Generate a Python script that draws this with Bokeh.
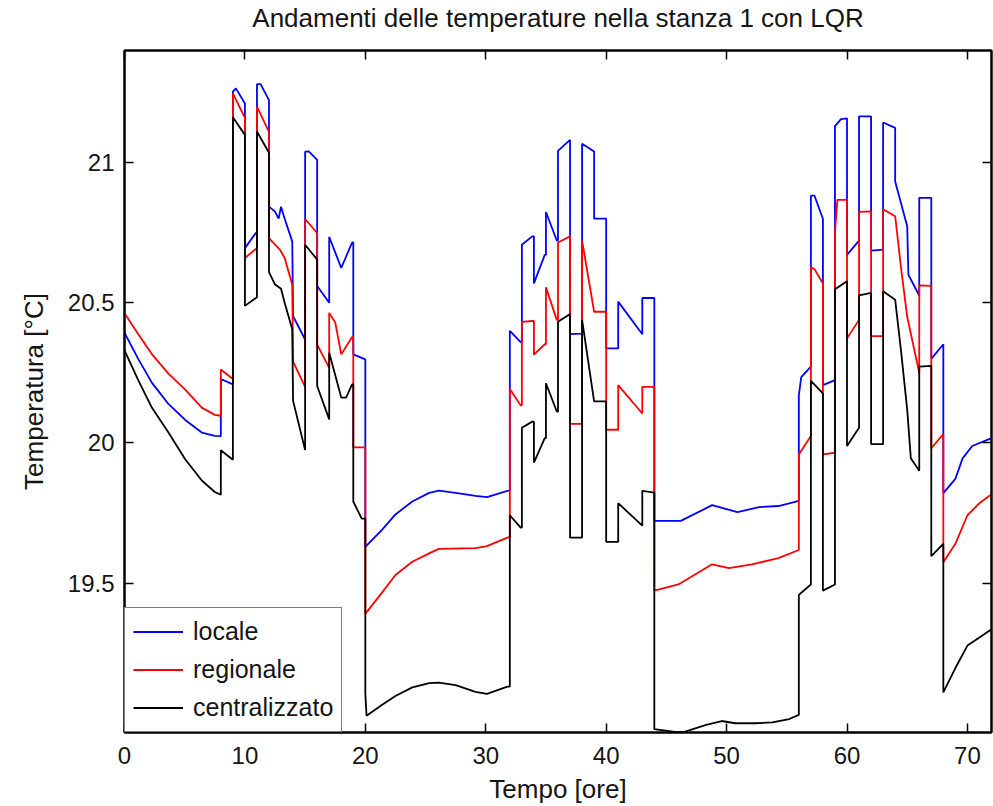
from bokeh.plotting import figure
from bokeh.models import (Range1d, LinearAxis, FixedTicker, NumeralTickFormatter,
                          Legend, LegendItem, CustomJSTickFormatter)
from bokeh.embed import file_html
from bokeh.resources import INLINE

title_text = "Andamenti delle temperature nella stanza 1 con LQR"
x_label = "Tempo [ore]"
y_label = "Temperatura [°C]"
x_ticks = [0, 10, 20, 30, 40, 50, 60, 70]
y_ticks = [19.5, 20, 20.5, 21]
series_names = ["locale", "regionale", "centralizzato"]

t_locale = [0, 1.16, 2.27, 3.65, 5.04, 6.42, 7.5, 8, 8, 9, 9, 9.25, 10, 10, 10.9, 11, 11, 11.3, 12,
            12, 12.5, 12.8, 13, 13.3, 13.93, 14, 15, 15, 15.3, 16, 16, 17, 17, 18, 18.9, 19, 19, 20,
            20, 21.4, 22.5, 23.9, 25.3, 26.1, 27.5, 29.15, 30.1, 31.8, 32, 32, 32.9, 33, 33, 33.86,
            34, 34, 34.9, 35, 35, 35.9, 36, 36, 37, 37, 38, 38, 39, 39, 40, 40, 41, 41, 43, 43, 44,
            44, 46.2, 48.8, 50.9, 52.7, 54.3, 56, 56, 56.2, 57, 57, 57.3, 58, 58, 59, 59, 59.5, 60,
            60, 61, 61, 62, 62, 63, 63, 64, 64, 65, 65.1, 66, 66, 67, 67, 68, 68, 69, 69.6, 70.4, 72]
T_locale = [20.393, 20.298, 20.215, 20.139, 20.082, 20.037, 20.025, 20.024, 20.228, 20.209, 21.253,
            21.265, 21.211, 20.695, 20.749, 20.749, 21.28, 21.28, 21.223, 20.843, 20.825, 20.80,
            20.843, 20.80, 20.719, 20.452, 20.369, 21.039, 21.04, 21.01, 20.56, 20.50, 20.735, 20.624,
            20.715, 20.716, 20.316, 20.298, 19.629, 19.691, 19.745, 19.791, 19.822, 19.83, 19.822,
            19.811, 19.807, 19.829, 19.83, 20.40, 20.36, 20.36, 20.707, 20.737, 20.737, 20.569,
            20.671, 20.671, 20.824, 20.722, 20.722, 21.042, 21.081, 20.388, 20.39, 21.067, 21.04,
            20.80, 20.80, 20.337, 20.337, 20.504, 20.388, 20.517, 20.517, 19.722, 19.722, 19.778,
            19.753, 19.771, 19.775, 19.793, 20.17, 20.235, 20.272, 20.882, 20.882, 20.80, 20.206,
            20.224, 21.13, 21.155, 21.158, 20.671, 20.722, 21.165, 21.165, 20.686, 20.69, 21.143,
            21.124, 20.933, 20.773, 20.60, 20.526, 20.874, 20.874, 20.30, 20.352, 19.821, 19.872,
            19.945, 19.989, 20.017]

t_regionale = [0, 1.16, 2.27, 3.65, 5.04, 6.42, 7.5, 8, 8, 9, 9, 10, 10, 11, 11, 12, 12, 12.9, 13.3,
               13.93, 14, 15, 15, 16, 16, 17, 17, 17.5, 18, 18.9, 19, 19, 20, 20, 21.4, 22.5, 23.9,
               25.3, 26.1, 29.15, 30.1, 31.8, 32, 32, 32.9, 33, 33, 33.86, 34, 34, 34.9, 35, 35,
               35.9, 36, 36, 37, 37, 38, 38, 39, 40, 40, 41, 41, 43, 43, 44, 44, 46, 48.8, 50.2,
               52.1, 54.3, 56, 56, 57, 57, 57.3, 58, 58, 59, 59, 59.2, 60, 60, 61, 61, 62, 62, 63,
               63, 64, 64.5, 65, 66, 66, 67, 67, 68, 68, 69, 70, 71, 72]
T_regionale = [20.463, 20.387, 20.317, 20.247, 20.19, 20.126, 20.10, 20.097, 20.262, 20.228, 21.247,
               21.16, 20.66, 20.695, 21.20, 21.11, 20.731, 20.69, 20.66, 20.565, 20.29, 20.20,
               20.799, 20.749, 20.351, 20.268, 20.464, 20.43, 20.316, 20.378, 20.378, 19.984,
               19.984, 19.39, 19.467, 19.529, 19.576, 19.606, 19.622, 19.625, 19.632, 19.662,
               19.665, 20.192, 20.134, 20.134, 20.432, 20.435, 20.435, 20.315, 20.352, 20.352,
               20.555, 20.439, 20.439, 20.715, 20.737, 20.068, 20.068, 20.722, 20.468, 20.468,
               20.047, 20.047, 20.206, 20.105, 20.20, 20.20, 19.473, 19.495, 19.567, 19.553,
               19.567, 19.589, 19.618, 19.959, 20.025, 20.628, 20.62, 20.569, 19.959, 19.965,
               20.751, 20.867, 20.867, 20.373, 20.439, 20.824, 20.826, 20.381, 20.381, 20.834,
               20.809, 20.62, 20.45, 20.25, 20.562, 20.56, 19.981, 20.032, 19.574, 19.64, 19.742,
               19.785, 19.817]

t_centralizzato = [0, 1.16, 2.27, 3.65, 5.04, 6.42, 7.5, 8, 8, 9, 9, 10, 10, 11, 11, 12, 12, 12.5,
                   13, 13.3, 13.93, 14, 15, 15, 16, 16, 17, 17, 18, 18.4, 18.9, 19, 19, 19.7, 20,
                   20, 20.1, 21.4, 22.5, 23.9, 25.3, 26.1, 27.5, 29.15, 30.1, 31.8, 32, 32, 32.9,
                   33, 33, 33.86, 34, 34, 34.9, 35, 35, 35.9, 36, 36, 37, 37, 38, 38, 39, 40, 40,
                   41, 41, 43, 43, 44, 44, 45.7, 46.5, 48.3, 49.6, 50.7, 52.4, 53.8, 55.2, 56, 56,
                   57, 57, 58, 58, 59, 59, 60, 60, 61, 61, 62, 62, 63, 63, 64, 64.5, 65, 65.3, 66,
                   66, 67, 67, 68, 68, 69, 70, 71, 72]
T_centralizzato = [20.33, 20.222, 20.126, 20.037, 19.942, 19.866, 19.825, 19.815, 19.974, 19.94,
                   21.162, 21.099, 20.489, 20.52, 21.111, 21.035, 20.609, 20.565, 20.55, 20.50,
                   20.406, 20.15, 19.975, 20.707, 20.654, 20.203, 20.084, 20.322, 20.162, 20.162,
                   20.209, 20.209, 19.791, 19.73, 19.73, 19.105, 19.027, 19.066, 19.097, 19.128,
                   19.143, 19.145, 19.136, 19.112, 19.105, 19.131, 19.131, 19.742, 19.698, 19.698,
                   20.054, 20.076, 20.076, 19.93, 20.017, 20.017, 20.213, 20.112, 20.112, 20.432,
                   20.46, 19.662, 19.662, 20.439, 20.148, 20.148, 19.647, 19.647, 19.785, 19.705,
                   19.829, 19.823, 18.979, 18.969, 18.969, 18.994, 19.008, 19.0, 19.0, 19.003,
                   19.015, 19.03, 19.458, 19.495, 20.221, 20.177, 19.473, 19.495, 20.548, 20.577,
                   19.989, 20.054, 20.526, 20.535, 19.996, 19.996, 20.541, 20.511, 20.323, 20.119,
                   19.945, 19.901, 20.272, 20.275, 19.596, 19.64, 19.11, 19.197, 19.277, 19.306,
                   19.335]

TXT = "#151515"
FONT = "Liberation Sans"

p = figure(width=993, height=806, x_range=Range1d(0, 72), y_range=Range1d(18.967, 21.4),
           output_backend="svg", toolbar_location=None,
           min_border_left=124, min_border_right=2, min_border_top=50, min_border_bottom=72,
           title=title_text)
p.background_fill_color = "white"
p.border_fill_color = "white"
p.outline_line_color = "black"
p.outline_line_width = 2
p.grid.visible = False

p.title.align = "center"
p.title.text_font = FONT
p.title.text_font_size = "26px"
p.title.text_font_style = "normal"
p.title.text_color = TXT
p.title.standoff = 0

def style_axis(ax, show_labels):
    ax.axis_line_color = "black"
    ax.axis_line_width = 2
    ax.major_tick_line_color = "black"
    ax.major_tick_line_width = 1.5
    ax.major_tick_in = 9
    ax.major_tick_out = 0
    ax.minor_tick_line_color = None
    ax.major_label_text_font = FONT
    ax.major_label_text_color = TXT
    if show_labels:
        ax.major_label_text_font_size = "24px"
    else:
        ax.major_label_text_font_size = "0px"
        ax.major_label_standoff = 0
        ax.formatter = CustomJSTickFormatter(code="return ''")

xa = p.xaxis[0]
xa.ticker = FixedTicker(ticks=x_ticks)
style_axis(xa, True)
xa.major_label_standoff = 14
xa.axis_label = x_label
xa.axis_label_text_font = FONT
xa.axis_label_text_font_size = "26px"
xa.axis_label_text_font_style = "normal"
xa.axis_label_text_color = TXT
xa.axis_label_standoff = 7

ya = p.yaxis[0]
ya.ticker = FixedTicker(ticks=y_ticks)
ya.formatter = NumeralTickFormatter(format="0.[0]")
style_axis(ya, True)
ya.major_label_standoff = 10
ya.axis_label = y_label
ya.axis_label_text_font = FONT
ya.axis_label_text_font_size = "26px"
ya.axis_label_text_font_style = "normal"
ya.axis_label_text_color = TXT
ya.axis_label_standoff = 16

top = LinearAxis(ticker=FixedTicker(ticks=x_ticks))
style_axis(top, False)
top.axis_label = " "
top.axis_label_text_font = FONT
top.axis_label_text_font_size = "12px"
top.axis_label_text_alpha = 0
top.axis_label_standoff = 1
p.add_layout(top, "above")
right = LinearAxis(ticker=FixedTicker(ticks=y_ticks))
style_axis(right, False)
p.add_layout(right, "right")

colors = ["#0000ff", "#ff0000", "#000000"]
data = [(t_locale, T_locale), (t_regionale, T_regionale), (t_centralizzato, T_centralizzato)]
renderers = []
for (tx, ty), c in zip(data, colors):
    r = p.line(tx, ty, line_color=c, line_width=1.8)
    renderers.append(r)

legend = Legend(items=[LegendItem(label=n, renderers=[r]) for n, r in zip(series_names, renderers)],
                location="bottom_left")
legend.border_line_color = "black"
legend.border_line_width = 1.5
legend.background_fill_color = "white"
legend.background_fill_alpha = 1.0
legend.label_text_font = FONT
legend.label_text_font_size = "25px"
legend.label_text_color = TXT
legend.glyph_width = 50
legend.glyph_height = 31
legend.label_height = 31
legend.label_standoff = 10
legend.padding = 8
legend.spacing = 7
legend.margin = 0
p.add_layout(legend, "center")

open("out.html", "w").write(file_html(p, INLINE))
